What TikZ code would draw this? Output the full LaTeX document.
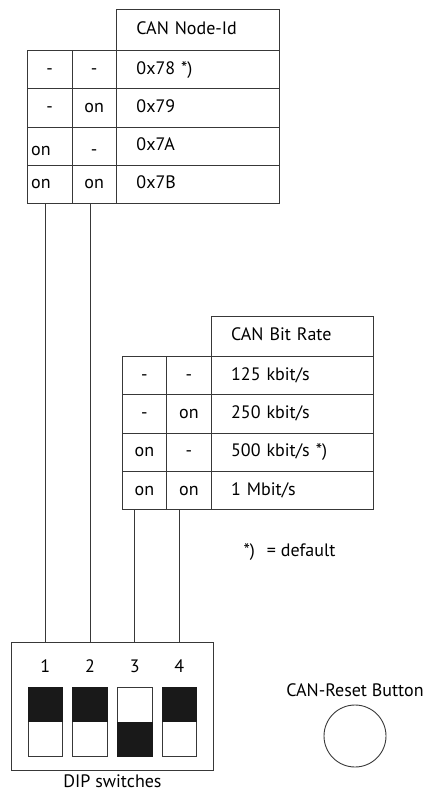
\documentclass[tikz,border=0pt]{standalone}
\usepackage{fontspec}
\setmainfont{PT Sans}
\usetikzlibrary{positioning}

\definecolor{linegray}{gray}{0.22}
\tikzset{
  lbl/.style={font=\fontsize{18}{21}\selectfont},
  cell/.style={lbl, draw=linegray, line width=0.9pt, minimum height=38.3pt, inner sep=0pt,
    text height=13pt, text depth=4pt, anchor=north west},
  swcell/.style={cell, minimum width=44.5pt},
  valcell/.style={cell, minimum width=162.5pt, text width=122.5pt, inner xsep=20pt, align=left},
  plain/.style={},
  low/.style={text height=22pt},
  leftin/.style={text width=37pt, inner xsep=3.75pt, align=left},
  lowleft/.style={low, leftin},
  switch/.style={draw=linegray, line width=0.9pt, minimum width=34.7pt, minimum height=69.4pt, inner sep=0pt},
  wire/.style={draw=linegray, line width=0.9pt},
}

\begin{document}
\begin{tikzpicture}[x=1pt,y=-1pt]
\useasboundingbox (0,0) rectangle (436,794);

% node-id table
\begin{scope}[shift={(27,9.5)}]
  \node[valcell, minimum height=40.5pt] (id-head) at (89,0) {CAN Node-Id};
  \foreach \a/\b/\v/\sa/\sb [count=\r] in {-/-/{0x78 *)}/plain/plain, -/on/0x79/plain/plain,
      on/-/0x7A/lowleft/low, on/on/0x7B/leftin/plain} {
    \pgfmathsetmacro\ytop{40.5+(\r-1)*38.3}
    \node[swcell,\sa] (id-\r-a) at (0,\ytop) {\a};
    \node[swcell,\sb] (id-\r-b) at (44.5,\ytop) {\b};
    \node[valcell] (id-\r-v) at (89,\ytop) {\v};
  }
\end{scope}

% bit rate table
\begin{scope}[shift={(121.7,315.7)}]
  \node[valcell, minimum height=40.3pt] (br-head) at (89,0) {CAN Bit Rate};
  \foreach \a/\b/\v [count=\r] in {-/-/{125 kbit/s}, -/on/{250 kbit/s},
      on/-/{500 kbit/s *)}, on/on/{1 Mbit/s}} {
    \pgfmathsetmacro\ytop{40.3+(\r-1)*38.3}
    \node[swcell] (br-\r-a) at (0,\ytop) {\a};
    \node[swcell] (br-\r-b) at (44.5,\ytop) {\b};
    \node[valcell] (br-\r-v) at (89,\ytop) {\v};
  }
\end{scope}

\node[lbl] (default) at (289.5,552) {*)\hspace{0.4em} = default};

% dip switches
\node[draw=linegray, line width=0.9pt, minimum width=202.4pt, minimum height=128.4pt] (dip) at (112.5,706.5) {};
\foreach \i/\up in {1/1,2/1,3/0,4/1} {
  \node[switch] (sw\i) at ({45.3+44.7*(\i-1)},722) {};
  \ifnum\up=1
    \fill[black!90] (sw\i.north west) rectangle (sw\i.east);
  \else
    \fill[black!90] (sw\i.west) rectangle (sw\i.south east);
  \fi
  \node[lbl, above=11pt of sw\i] (n\i) {\i};
}
\node[lbl, below=0pt of dip] (dip-lbl) {DIP switches};

\draw[wire] (sw1 |- id-4-a.south) -- (sw1 |- dip.north);
\draw[wire] (sw2 |- id-4-b.south) -- (sw2 |- dip.north);
\draw[wire] (sw3 |- br-4-a.south) -- (sw3 |- dip.north);
\draw[wire] (sw4 |- br-4-b.south) -- (sw4 |- dip.north);

% reset button
\node[draw=linegray, line width=0.9pt, circle, minimum size=62pt] (reset) at (355,736) {};
\node[lbl, above=4pt of reset] (reset-lbl) {CAN-Reset Button};
\end{tikzpicture}
\end{document}
